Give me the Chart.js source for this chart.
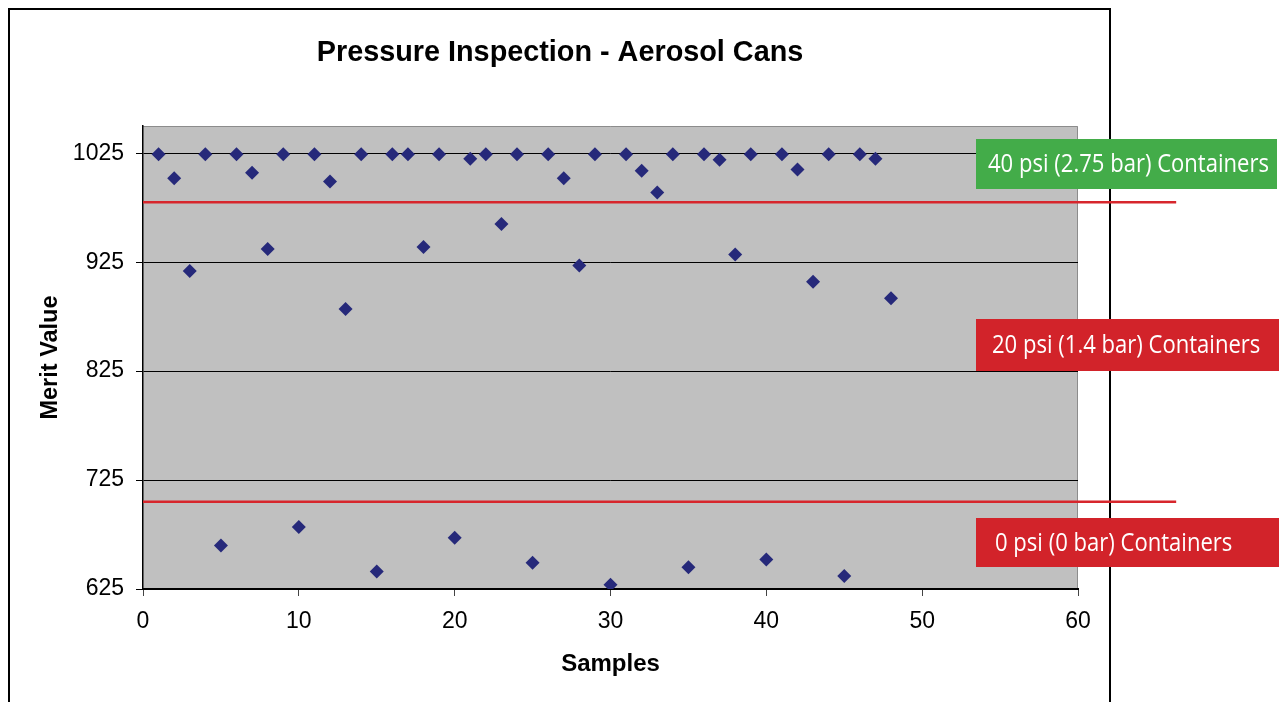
<!DOCTYPE html>
<html>
<head>
<meta charset="utf-8">
<title>Pressure Inspection - Aerosol Cans</title>
<script src="https://cdn.jsdelivr.net/npm/chart.js@4.4.1/dist/chart.umd.min.js"></script>
<style>
    html, body { margin: 0; padding: 0; background: #fff; }
    canvas { display: block; }
</style>
</head>
<body>
<canvas id="pressureChart" width="1282" height="702"></canvas>
<script>
'use strict';

// ============================================================================
// DATA
// ============================================================================

/** Sample numbers (x) */
const samples = [
    1, 2, 3, 4, 5, 6, 7, 8, 9, 10, 11, 12, 13, 14, 15, 16,
    17, 18, 19, 20, 21, 22, 23, 24, 25, 26, 27, 28, 29, 30, 31, 32,
    33, 34, 35, 36, 37, 38, 39, 40, 41, 42, 43, 44, 45, 46, 47, 48
];

/** Merit value read for each sample */
const meritValues = [
    1024, 1002, 917, 1024, 665, 1024, 1007, 937, 1024, 682, 1024, 999, 882, 1024, 641, 1024,
    1024, 939, 1024, 672, 1020, 1024, 960, 1024, 649, 1024, 1002, 922, 1024, 629, 1024, 1009,
    989, 1024, 645, 1024, 1019, 932, 1024, 652, 1024, 1010, 907, 1024, 637, 1024, 1020, 892
];

/** Y axis tick values */
const yTicks = [625, 725, 825, 925, 1025];

/** Axis ranges */
const xRange = [0, 60];
const yRange = [625, 1050];

/** Threshold lines separating the container classes */
const thresholdValues = [980, 705];
const thresholdExtent = [0, 66.3];

/** Class labels, top to bottom */
const classLabels = [
    '40 psi (2.75 bar) Containers',
    '20 psi (1.4 bar) Containers',
    '0 psi (0 bar) Containers'
];
const classColors = ['#43AC49', '#D2232A', '#D2232A'];

// ============================================================================
// PLUGINS
// ============================================================================

const FONT = '"Liberation Sans", Arial, sans-serif';

/** Draws the white page, outer frame and grey plot area behind everything */
const plotBackground = {
    id: 'plotBackground',
    beforeDraw(chart) {
        const { ctx, chartArea: area } = chart;
        ctx.save();
        ctx.fillStyle = '#ffffff';
        ctx.fillRect(0, 0, chart.width, chart.height);

        ctx.strokeStyle = '#000000';
        ctx.lineWidth = 2;
        ctx.beginPath();
        ctx.moveTo(9, chart.height + 5);
        ctx.lineTo(9, 9);
        ctx.lineTo(1110, 9);
        ctx.lineTo(1110, chart.height + 5);
        ctx.stroke();

        ctx.fillStyle = '#C0C0C0';
        ctx.fillRect(area.left, area.top, area.width, area.height);

        ctx.strokeStyle = '#8C8C8C';
        ctx.lineWidth = 1;
        ctx.beginPath();
        ctx.moveTo(area.left, area.top + 0.5);
        ctx.lineTo(area.right - 0.5, area.top + 0.5);
        ctx.lineTo(area.right - 0.5, area.bottom);
        ctx.stroke();
        ctx.restore();
    }
};

/** Chart title and the coloured class boxes on the right */
const chartOverlay = {
    id: 'chartOverlay',
    afterDraw(chart) {
        const { ctx } = chart;
        ctx.save();
        ctx.fillStyle = '#000000';
        ctx.font = 'bold 28.8px ' + FONT;
        ctx.textAlign = 'center';
        ctx.textBaseline = 'middle';
        ctx.fillText('Pressure Inspection - Aerosol Cans', 560, 53);

        const boxes = [
            { top: 139, bottom: 189, right: 1277, textX: 988 },
            { top: 319, bottom: 371, right: 1279, textX: 992 },
            { top: 518, bottom: 567, right: 1279, textX: 995 }
        ];
        ctx.font = '26px "Open Sans", "Noto Sans", sans-serif';
        const squeeze = 281 / ctx.measureText(classLabels[0]).width;
        classLabels.forEach((label, i) => {
            const box = boxes[i];
            ctx.fillStyle = classColors[i];
            ctx.fillRect(976, box.top, box.right - 976, box.bottom - box.top);
            ctx.save();
            ctx.translate(box.textX, (box.top + box.bottom) / 2 + 1);
            ctx.scale(squeeze, 1);
            ctx.fillStyle = '#ffffff';
            ctx.textAlign = 'left';
            ctx.textBaseline = 'middle';
            ctx.fillText(label, 0, 0);
            ctx.restore();
        });
        ctx.restore();
    }
};

// ============================================================================
// CHART
// ============================================================================

function renderChart() {
    const canvas = document.getElementById('pressureChart');
    const context = canvas.getContext('2d');

    const thresholdSets = thresholdValues.map(value => ({
        type: 'line',
        data: thresholdExtent.map(x => ({ x, y: value })),
        borderColor: '#D7262C',
        borderWidth: 2.5,
        pointRadius: 0,
        fill: false,
        clip: false,
        order: 0
    }));

    new Chart(context, {
        type: 'scatter',
        data: {
            datasets: [{
                label: 'Merit Value',
                data: samples.map((s, i) => ({ x: s, y: meritValues[i] })),
                pointStyle: 'rectRot',
                pointRadius: 7,
                pointHoverRadius: 7,
                backgroundColor: '#26297A',
                borderColor: '#26297A',
                borderWidth: 0,
                order: 1
            }, ...thresholdSets]
        },
        options: {
            responsive: false,
            animation: false,
            devicePixelRatio: 1,
            layout: { padding: { left: 0, right: 204, top: 126, bottom: 0 } },
            plugins: {
                legend: { display: false },
                tooltip: { enabled: false },
                title: { display: false }
            },
            scales: {
                x: {
                    type: 'linear',
                    min: xRange[0],
                    max: xRange[1],
                    ticks: {
                        stepSize: 10,
                        padding: 12,
                        color: '#000',
                        font: { family: FONT, size: 23 }
                    },
                    grid: {
                        drawOnChartArea: false,
                        drawTicks: true,
                        tickLength: 7,
                        color: '#444'
                    },
                    border: { color: '#000', width: 2 },
                    title: {
                        display: true,
                        text: 'Samples',
                        color: '#000',
                        padding: { top: 23, bottom: 23 },
                        font: { family: FONT, size: 24, weight: 'bold' }
                    },
                    afterFit(scale) { scale.height = 113; }
                },
                y: {
                    type: 'linear',
                    min: yRange[0],
                    max: yRange[1],
                    afterBuildTicks(scale) {
                        scale.ticks = yTicks.map(value => ({ value }));
                    },
                    ticks: {
                        padding: 12,
                        color: '#000',
                        font: { family: FONT, size: 23 },
                        callback: value => String(value)
                    },
                    grid: {
                        drawTicks: true,
                        tickLength: 7,
                        color: '#000',
                        lineWidth: 1
                    },
                    border: { color: '#000', width: 1.5 },
                    title: {
                        display: true,
                        text: 'Merit Value',
                        color: '#000',
                        padding: { top: 36, bottom: 36 },
                        font: { family: FONT, size: 23.5, weight: 'bold' }
                    },
                    afterFit(scale) { scale.width = 143; }
                }
            }
        },
        plugins: [plotBackground, chartOverlay]
    });
}

renderChart();
</script>
</body>
</html>
